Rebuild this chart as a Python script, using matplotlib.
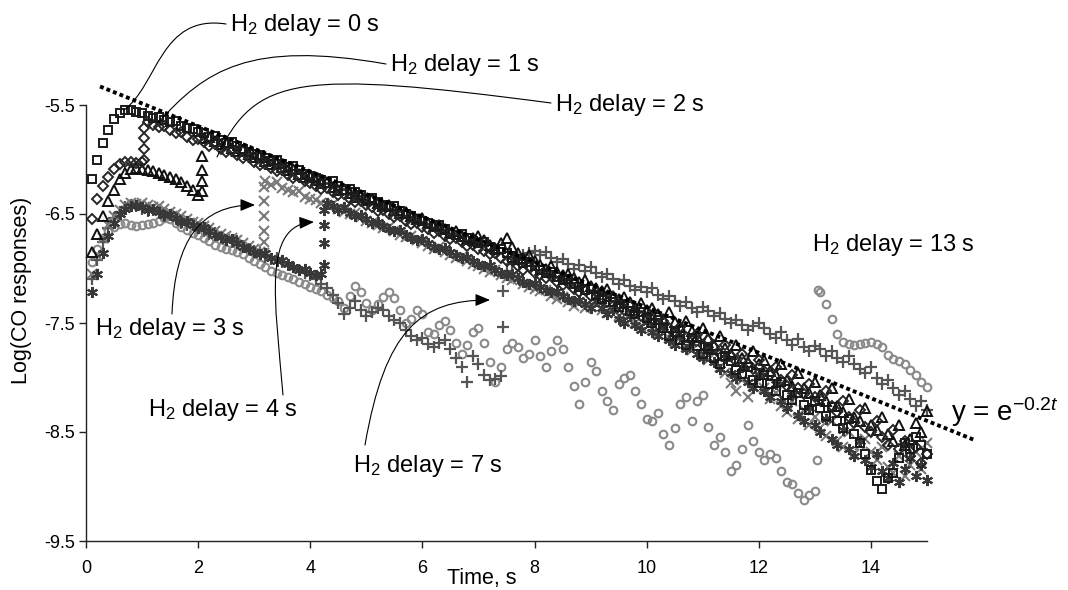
import numpy as np
import matplotlib
matplotlib.use("Agg")
import matplotlib.pyplot as plt
from matplotlib.path import Path
from matplotlib.patches import FancyArrowPatch, ArrowStyle
from matplotlib.transforms import IdentityTransform

plt.rcParams['font.family'] = ['Liberation Sans', 'DejaVu Sans']
plt.rcParams['mathtext.fontset'] = 'custom'
plt.rcParams['mathtext.rm'] = 'Liberation Sans'
plt.rcParams['mathtext.it'] = 'Liberation Sans:italic'
plt.rcParams['axes.unicode_minus'] = False

# sampling times (s)
time_s = np.round(np.arange(1, 151) * 0.1, 1)

# ---- Log(CO response) per H2 delay, sampled on time_s ----
delay0_y = [
    -6.18, -6.00, -5.85, -5.73, -5.63, -5.57, -5.55, -5.55, -5.56, -5.57,
    -5.60, -5.62, -5.61, -5.64, -5.66, -5.65, -5.69, -5.71, -5.72, -5.75,
    -5.76, -5.79, -5.78, -5.82, -5.85, -5.84, -5.88, -5.90, -5.93, -5.95,
    -5.96, -5.99, -6.01, -6.00, -6.04, -6.07, -6.06, -6.10, -6.13, -6.15,
    -6.17, -6.19, -6.22, -6.20, -6.24, -6.28, -6.27, -6.30, -6.33, -6.36,
    -6.35, -6.39, -6.42, -6.44, -6.43, -6.47, -6.50, -6.52, -6.55, -6.56,
    -6.58, -6.61, -6.60, -6.64, -6.67, -6.69, -6.68, -6.72, -6.75, -6.77,
    -6.76, -6.80, -6.83, -6.82, -6.86, -6.90, -6.92, -6.95, -6.94, -6.98,
    -7.01, -7.04, -7.03, -7.08, -7.11, -7.10, -7.14, -7.17, -7.20, -7.19,
    -7.24, -7.28, -7.26, -7.31, -7.35, -7.33, -7.39, -7.42, -7.40, -7.45,
    -7.50, -7.47, -7.55, -7.62, -7.58, -7.66, -7.70, -7.64, -7.71, -7.78,
    -7.74, -7.82, -7.88, -7.80, -7.85, -7.93, -7.97, -7.90, -8.02, -8.05,
    -7.98, -8.06, -8.12, -8.04, -8.16, -8.21, -8.14, -8.25, -8.30, -8.22,
    -8.28, -8.35, -8.27, -8.40, -8.46, -8.38, -8.52, -8.60, -8.70, -8.85,
    -8.95, -9.02, -8.92, -8.88, -8.74, -8.60, -8.66, -8.55, -8.62, -8.70]

delay1_y = [
    -6.55, -6.36, -6.24, -6.16, -6.09, -6.04, -6.02, -6.02, -6.03, -6.02,
    -5.66, -5.68, -5.70, -5.69, -5.73, -5.76, -5.75, -5.79, -5.82, -5.81,
    -5.84, -5.88, -5.86, -5.90, -5.93, -5.92, -5.96, -5.99, -5.98, -6.02,
    -6.05, -6.04, -6.08, -6.11, -6.10, -6.14, -6.17, -6.16, -6.20, -6.22,
    -6.24, -6.27, -6.26, -6.30, -6.33, -6.32, -6.36, -6.39, -6.38, -6.42,
    -6.44, -6.47, -6.46, -6.50, -6.53, -6.52, -6.56, -6.59, -6.58, -6.62,
    -6.64, -6.67, -6.66, -6.70, -6.73, -6.72, -6.76, -6.79, -6.78, -6.82,
    -6.84, -6.87, -6.86, -6.90, -6.93, -6.92, -6.98, -7.01, -6.99, -7.04,
    -7.06, -7.09, -7.07, -7.12, -7.15, -7.13, -7.19, -7.22, -7.20, -7.25,
    -7.22, -7.27, -7.31, -7.26, -7.33, -7.38, -7.34, -7.41, -7.44, -7.40,
    -7.46, -7.52, -7.48, -7.55, -7.60, -7.54, -7.63, -7.66, -7.60, -7.70,
    -7.66, -7.72, -7.78, -7.70, -7.80, -7.85, -7.78, -7.88, -7.92, -7.84,
    -7.94, -7.98, -7.90, -8.02, -8.08, -7.98, -8.10, -8.15, -8.06, -8.18,
    -8.20, -8.12, -8.26, -8.32, -8.22, -8.36, -8.42, -8.30, -8.45, -8.50,
    -8.40, -8.55, -8.62, -8.48, -8.66, -8.58, -8.72, -8.64, -8.78, -8.70]

delay2_y = [
    -6.85, -6.68, -6.52, -6.38, -6.28, -6.18, -6.12, -6.09, -6.08, -6.09,
    -6.10, -6.11, -6.12, -6.14, -6.16, -6.18, -6.21, -6.24, -6.28, -6.33,
    -5.80, -5.79, -5.83, -5.86, -5.85, -5.89, -5.92, -5.91, -5.95, -5.98,
    -5.97, -6.01, -6.04, -6.03, -6.07, -6.10, -6.09, -6.13, -6.16, -6.15,
    -6.19, -6.22, -6.21, -6.25, -6.28, -6.27, -6.31, -6.34, -6.33, -6.37,
    -6.36, -6.40, -6.43, -6.42, -6.46, -6.49, -6.48, -6.52, -6.55, -6.54,
    -6.58, -6.61, -6.60, -6.64, -6.67, -6.66, -6.70, -6.73, -6.72, -6.70,
    -6.74, -6.78, -6.81, -6.77, -6.72, -6.80, -6.86, -6.90, -6.88, -6.93,
    -6.97, -7.00, -6.98, -7.03, -7.06, -7.05, -7.09, -7.12, -7.11, -7.16,
    -7.18, -7.21, -7.19, -7.25, -7.28, -7.26, -7.31, -7.35, -7.32, -7.38,
    -7.36, -7.42, -7.46, -7.40, -7.49, -7.54, -7.48, -7.57, -7.62, -7.55,
    -7.64, -7.70, -7.62, -7.73, -7.78, -7.70, -7.82, -7.86, -7.76, -7.88,
    -7.84, -7.94, -7.98, -7.88, -8.02, -8.08, -7.96, -8.10, -8.14, -8.04,
    -8.16, -8.22, -8.10, -8.26, -8.32, -8.20, -8.36, -8.40, -8.28, -8.44,
    -8.48, -8.36, -8.52, -8.58, -8.44, -8.62, -8.56, -8.42, -8.50, -8.31]

delay3_y = [
    -7.05, -6.88, -6.72, -6.60, -6.52, -6.46, -6.42, -6.40, -6.41, -6.40,
    -6.42, -6.44, -6.43, -6.45, -6.48, -6.50, -6.52, -6.55, -6.57, -6.58,
    -6.61, -6.63, -6.66, -6.68, -6.70, -6.72, -6.74, -6.77, -6.79, -6.82,
    -6.85, -6.20, -6.23, -6.21, -6.26, -6.28, -6.30, -6.29, -6.34, -6.36,
    -6.37, -6.40, -6.42, -6.41, -6.45, -6.48, -6.50, -6.49, -6.53, -6.56,
    -6.58, -6.60, -6.63, -6.62, -6.66, -6.69, -6.71, -6.70, -6.74, -6.77,
    -6.79, -6.82, -6.80, -6.85, -6.88, -6.90, -6.89, -6.93, -6.96, -6.98,
    -7.00, -7.03, -7.01, -7.06, -7.09, -7.11, -7.10, -7.14, -7.17, -7.19,
    -7.21, -7.20, -7.25, -7.28, -7.26, -7.31, -7.34, -7.32, -7.36, -7.35,
    -7.32, -7.38, -7.41, -7.36, -7.44, -7.47, -7.42, -7.50, -7.53, -7.48,
    -7.55, -7.60, -7.52, -7.64, -7.68, -7.60, -7.72, -7.75, -7.66, -7.80,
    -7.84, -7.76, -7.90, -7.96, -8.05, -8.12, -8.02, -8.18, -8.08, -7.98,
    -8.10, -8.20, -8.14, -8.26, -8.32, -8.22, -8.38, -8.30, -8.44, -8.36,
    -8.46, -8.54, -8.40, -8.58, -8.64, -8.50, -8.70, -8.62, -8.56, -8.68,
    -8.76, -8.64, -8.82, -8.88, -8.72, -8.90, -8.80, -8.68, -8.84, -8.60]

delay4_y = [
    -7.22, -7.05, -6.86, -6.70, -6.58, -6.50, -6.45, -6.43, -6.42, -6.44,
    -6.46, -6.45, -6.48, -6.51, -6.50, -6.54, -6.57, -6.56, -6.60, -6.63,
    -6.62, -6.66, -6.69, -6.71, -6.74, -6.73, -6.77, -6.80, -6.82, -6.85,
    -6.87, -6.86, -6.90, -6.93, -6.92, -6.96, -6.99, -7.01, -7.00, -7.04,
    -7.06, -7.05, -6.40, -6.43, -6.46, -6.44, -6.49, -6.52, -6.51, -6.55,
    -6.58, -6.57, -6.61, -6.64, -6.66, -6.65, -6.69, -6.72, -6.74, -6.73,
    -6.77, -6.80, -6.82, -6.81, -6.85, -6.88, -6.90, -6.89, -6.93, -6.96,
    -6.98, -6.97, -7.01, -7.04, -7.06, -7.05, -7.09, -7.12, -7.14, -7.13,
    -7.17, -7.20, -7.22, -7.21, -7.25, -7.28, -7.30, -7.29, -7.33, -7.36,
    -7.30, -7.36, -7.42, -7.38, -7.46, -7.50, -7.44, -7.52, -7.56, -7.49,
    -7.58, -7.62, -7.54, -7.66, -7.70, -7.62, -7.74, -7.68, -7.78, -7.82,
    -7.74, -7.86, -7.92, -7.82, -7.96, -8.00, -7.90, -8.04, -8.10, -7.98,
    -8.12, -8.18, -8.06, -8.22, -8.28, -8.16, -8.34, -8.40, -8.28, -8.44,
    -8.50, -8.38, -8.56, -8.62, -8.48, -8.66, -8.72, -8.58, -8.76, -8.82,
    -8.70, -8.86, -8.92, -8.78, -8.96, -8.84, -8.74, -8.90, -8.80, -8.94]

delay7_y = [
    -7.10, -6.92, -6.76, -6.63, -6.54, -6.48, -6.44, -6.42, -6.43, -6.45,
    -6.47, -6.46, -6.49, -6.52, -6.51, -6.55, -6.58, -6.60, -6.59, -6.63,
    -6.66, -6.68, -6.67, -6.71, -6.74, -6.76, -6.75, -6.79, -6.82, -6.84,
    -6.86, -6.89, -6.91, -6.90, -6.94, -6.97, -6.99, -7.01, -7.04, -7.06,
    -7.10, -7.14, -7.18, -7.24, -7.32, -7.42, -7.36, -7.30, -7.38, -7.44,
    -7.40, -7.36, -7.38, -7.44, -7.47, -7.50, -7.56, -7.62, -7.66, -7.64,
    -7.69, -7.72, -7.68, -7.66, -7.74, -7.82, -7.90, -8.04, -7.80, -7.88,
    -7.98, -8.02, -8.01, -7.99, -7.02, -6.96, -6.92, -6.88, -6.86, -6.84,
    -6.88, -6.85, -6.90, -6.94, -6.91, -6.96, -7.00, -6.97, -7.02, -6.99,
    -7.04, -7.08, -7.05, -7.10, -7.14, -7.11, -7.16, -7.20, -7.17, -7.22,
    -7.18, -7.24, -7.28, -7.25, -7.30, -7.34, -7.31, -7.36, -7.40, -7.35,
    -7.39, -7.44, -7.41, -7.46, -7.50, -7.47, -7.52, -7.56, -7.53, -7.50,
    -7.55, -7.60, -7.64, -7.58, -7.66, -7.70, -7.65, -7.72, -7.76, -7.71,
    -7.74, -7.80, -7.76, -7.82, -7.86, -7.80, -7.88, -7.92, -7.96, -7.90,
    -8.00, -8.06, -8.02, -8.10, -8.16, -8.12, -8.20, -8.26, -8.22, -8.30]

delay13_y = [
    -6.94, -6.82, -6.72, -6.66, -6.62, -6.59, -6.58, -6.60, -6.61, -6.60,
    -6.59, -6.58, -6.56, -6.54, -6.55, -6.58, -6.62, -6.65, -6.67, -6.69,
    -6.72, -6.75, -6.78, -6.80, -6.82, -6.83, -6.85, -6.87, -6.90, -6.93,
    -6.96, -6.99, -7.02, -7.04, -7.06, -7.08, -7.10, -7.12, -7.14, -7.17,
    -7.19, -7.21, -7.24, -7.27, -7.30, -7.36, -7.25, -7.16, -7.22, -7.32,
    -7.38, -7.33, -7.26, -7.22, -7.27, -7.38, -7.50, -7.46, -7.38, -7.42,
    -7.58, -7.60, -7.52, -7.48, -7.56, -7.68, -7.78, -7.70, -7.58, -7.55,
    -7.68, -7.86, -8.04, -7.90, -7.74, -7.68, -7.72, -7.82, -7.78, -7.66,
    -7.80, -7.90, -7.76, -7.66, -7.74, -7.90, -8.08, -8.24, -8.04, -7.86,
    -7.94, -8.12, -8.22, -8.30, -8.06, -8.00, -7.98, -8.12, -8.24, -8.38,
    -8.40, -8.33, -8.52, -8.62, -8.46, -8.24, -8.18, -8.40, -8.22, -8.16,
    -8.45, -8.62, -8.55, -8.68, -8.86, -8.80, -8.66, -8.44, -8.58, -8.68,
    -8.76, -8.70, -8.74, -8.86, -8.96, -8.98, -9.06, -9.12, -9.08, -9.04,
    -7.22, -7.33, -7.46, -7.60, -7.67, -7.69, -7.70, -7.69, -7.68, -7.67,
    -7.69, -7.72, -7.79, -7.83, -7.85, -7.88, -7.93, -7.98, -8.04, -8.09]

# transition points recorded just after H2 arrives
jump1_t = [1.03, 1.03, 1.03, 1.03]
jump1_y = [-6.00, -5.90, -5.80, -5.71]
jump2_t = [2.07, 2.07, 2.07, 2.07]
jump2_y = [-6.29, -6.20, -6.10, -5.97]
jump3_t = [3.17, 3.17, 3.17, 3.17, 3.17, 3.17]
jump3_y = [-6.86, -6.76, -6.66, -6.52, -6.38, -6.25]
jump4_t = [4.25, 4.25, 4.25, 4.25]
jump4_y = [-6.97, -6.77, -6.60, -6.46]
jump7_t = [7.43, 7.44]
jump7_y = [-7.54, -7.21]
jump13_t = [13.03, 13.06]
jump13_y = [-8.76, -7.20]

# exponential guide line y = e^(-0.2 t) (on log scale)
fit_t = [0.25, 15.83]
fit_y = [-5.33, -8.57]

W, H = 1068, 590
fig = plt.figure(figsize=(W / 100, H / 100), dpi=100)
ax = fig.add_axes([86 / W, 1 - 541 / H, (927 - 86) / W, (541 - 105) / H])

series = [
    (delay13_y, jump13_t, jump13_y, dict(marker='o', ms=5.5, mfc='none', mec='#8a8a8a', mew=1.5)),
    (delay7_y, jump7_t, jump7_y, dict(marker='+', ms=8, mec='#555555', mew=1.6)),
    (delay3_y, jump3_t, jump3_y, dict(marker='x', ms=6.5, mec='#7a7a7a', mew=1.5)),
    (delay4_y, jump4_t, jump4_y, dict(marker=(6, 2, 0), ms=8, mec='#383838', mew=1.5)),
    (delay2_y, jump2_t, jump2_y, dict(marker='^', ms=6.5, mfc='none', mec='#101010', mew=1.4)),
    (delay1_y, jump1_t, jump1_y, dict(marker='D', ms=5.2, mfc='none', mec='#262626', mew=1.4)),
    (delay0_y, [], [], dict(marker='s', ms=5.8, mfc='none', mec='#1a1a1a', mew=1.4)),
]
for ys, jt, jy, st in series:
    x = np.concatenate([time_s, np.array(jt, dtype=float)])
    y = np.concatenate([np.array(ys, dtype=float), np.array(jy, dtype=float)])
    ax.plot(x, y, linestyle='none', clip_on=False, **st)

ax.plot(fit_t, fit_y, color='black', lw=2.8, linestyle=(0, (1, 0.8)),
        clip_on=False, zorder=5)

ax.set_xlim(0, 15)
ax.set_ylim(-9.5, -5.5)
ax.set_xticks([0, 2, 4, 6, 8, 10, 12, 14])
ax.set_yticks([-9.5, -8.5, -7.5, -6.5, -5.5])
ax.spines['top'].set_visible(False)
ax.spines['right'].set_visible(False)
for s in ('left', 'bottom'):
    ax.spines[s].set_linewidth(1.0)
    ax.spines[s].set_color('#222222')
ax.tick_params(axis='both', direction='out', length=5, width=1.0,
               color='#222222', labelsize=13)
ax.tick_params(axis='x', pad=9)
ax.tick_params(axis='y', pad=3)

# axis titles
fig.text(22 / W, 1 - 290 / H, 'Log(CO responses)', rotation=90,
         ha='center', va='center', fontsize=15.5)
fig.text(447 / W, 1 - 584 / H, 'Time, s', ha='left', va='baseline', fontsize=15.5)

# labels
labels = [
    ('H$_2$ delay = 0 s', 230, 31),
    ('H$_2$ delay = 1 s', 390, 71),
    ('H$_2$ delay = 2 s', 555, 111),
    ('H$_2$ delay = 3 s', 95, 335),
    ('H$_2$ delay = 4 s', 148, 416),
    ('H$_2$ delay = 7 s', 353, 472),
    ('H$_2$ delay = 13 s', 812, 251),
]
for txt, lx, ly in labels:
    fig.text(lx / W, 1 - ly / H, txt, ha='left', va='baseline', fontsize=17)

fig.text(951 / W, 1 - 421 / H, 'y = e$^{-0.2\\mathit{t}}$', ha='left',
         va='baseline', fontsize=20)


def leader(p0, c1, c2, p3, arrow):
    verts = [(px, H - py) for (px, py) in (p0, c1, c2, p3)]
    path = Path(verts, [Path.MOVETO, Path.CURVE4, Path.CURVE4, Path.CURVE4])
    if arrow:
        style = ArrowStyle('-|>', head_length=0.6, head_width=0.25)
    else:
        style = ArrowStyle('-')
    patch = FancyArrowPatch(path=path, arrowstyle=style, mutation_scale=15,
                            lw=0.8, color='black', transform=IdentityTransform())
    fig.add_artist(patch)


leader((226, 24), (160, 14), (158, 85), (124, 110), False)
leader((386, 64), (250, 40), (205, 70), (158, 123), False)
leader((551, 103), (300, 70), (255, 75), (217, 157), False)
leader((172, 314), (175, 240), (200, 205), (255, 205), True)
leader((283, 395), (275, 300), (262, 225), (314, 222), True)
leader((365, 445), (385, 330), (420, 300), (490, 300), True)

fig.savefig('out.png', dpi=100)
